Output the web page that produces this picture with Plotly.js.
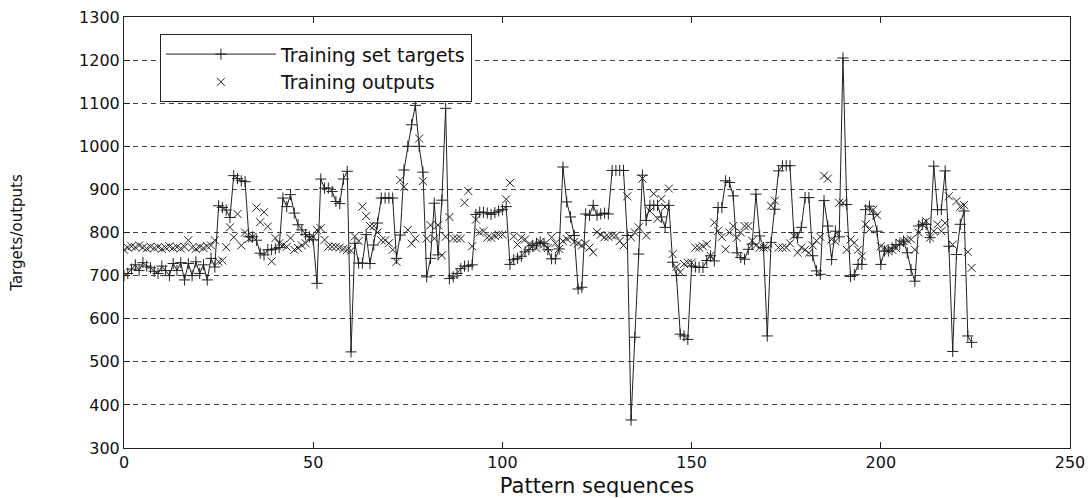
<!DOCTYPE html>
<html>
<head>
<meta charset="utf-8">
<script src="https://cdn.plot.ly/plotly-3.0.1.min.js"></script>
<style>html,body{margin:0;padding:0;background:#fff;}#chart{width:1091px;height:498px;}</style>
</head>
<body>
<div id="chart"></div>
<script>
// Training set targets (pattern sequence 0..224)
const targets = [
700,705,715,725,712,730,722,718,710,705,
722,712,700,728,712,730,690,728,700,732,
705,725,690,740,720,862,858,852,835,932,
925,920,918,790,790,782,752,748,760,760,
762,765,880,860,888,845,818,806,795,790,
783,682,924,903,903,895,872,867,924,942,
523,775,729,729,795,728,771,822,880,880,
880,880,740,794,945,1000,1050,1095,1000,940,
697,740,868,748,875,1088,693,697,705,716,
722,722,725,842,847,847,845,842,846,850,
853,860,726,737,740,745,755,760,770,775,
778,774,760,739,739,762,952,871,836,793,
669,673,843,840,863,840,843,845,843,944,
944,944,944,793,365,557,750,933,828,863,
863,863,836,812,863,731,700,564,560,552,
722,720,719,719,735,746,734,858,858,920,
916,885,753,742,738,761,773,889,792,765,
560,777,854,943,955,955,955,800,788,812,
881,881,746,711,703,874,815,737,803,790,
1205,865,698,702,726,726,853,861,842,803,
726,757,757,764,772,772,780,753,714,687,
815,819,819,788,954,853,853,943,768,524,
749,819,850,560,545
];
// Training outputs
const outputs = [
760,765,768,766,770,765,763,767,764,766,
762,765,768,764,766,763,767,782,765,762,
766,764,768,770,782,732,735,766,812,789,
843,770,800,785,790,858,824,847,814,733,
787,775,771,767,787,760,764,770,775,787,
790,806,810,783,767,767,767,765,762,760,
758,791,780,860,838,815,815,800,782,782,
775,760,732,922,906,806,774,786,1018,919,
786,817,786,817,747,790,836,786,786,786,
869,896,768,830,800,803,788,788,792,795,
795,877,915,791,772,788,784,772,768,764,
778,772,764,789,775,762,780,785,789,778,
775,770,774,765,754,801,795,789,790,793,
793,780,770,884,789,800,812,925,793,850,
890,832,878,859,902,750,720,708,727,730,
730,765,765,768,773,746,823,804,790,761,
800,815,788,800,815,815,781,770,765,765,
765,862,874,765,765,765,775,792,753,765,
760,753,770,781,790,932,925,784,780,869,
869,760,784,776,760,745,819,807,853,840,
768,764,757,760,764,776,780,782,784,760,
800,819,826,788,803,819,803,822,884,772,
873,860,864,755,718
];
const seq = targets.map((_, i) => i);
const xTicks = [0, 50, 100, 150, 200, 250];
const yTicks = [300, 400, 500, 600, 700, 800, 900, 1000, 1100, 1200, 1300];

const traces = [
  {
    x: seq, y: targets, name: 'Training set targets', type: 'scatter', mode: 'lines+markers',
    line: {color: '#222', width: 1},
    marker: {symbol: 'cross-thin', size: 8, color: '#222', line: {color: '#222', width: 1}}
  },
  {
    x: seq, y: outputs, name: 'Training outputs', type: 'scatter', mode: 'markers',
    marker: {symbol: 'x-thin', size: 8, color: '#222', line: {color: '#222', width: 1}}
  }
];

const layout = {
  width: 1091, height: 498,
  margin: {l: 124, r: 21, t: 17, b: 50},
  paper_bgcolor: '#fff', plot_bgcolor: '#fff',
  font: {family: 'DejaVu Sans, Arial, sans-serif', color: '#111'},
  showlegend: true,
  legend: {
    x: 0.038, y: 0.96, xanchor: 'left', yanchor: 'top',
    bgcolor: '#fff', bordercolor: '#222', borderwidth: 1,
    font: {family: 'DejaVu Sans, Arial, sans-serif', size: 19, color: '#111'},
    itemwidth: 110, tracegroupgap: 0
  },
  xaxis: {
    range: [0, 250], tickvals: xTicks, ticktext: xTicks.map(String),
    ticks: 'inside', ticklen: 6, tickcolor: '#222',
    showline: true, linecolor: '#222', linewidth: 1, mirror: 'ticks',
    showgrid: false, zeroline: false,
    tickfont: {family: 'DejaVu Sans, Arial, sans-serif', size: 16, color: '#111'},
    title: {text: 'Pattern sequences', font: {family: 'DejaVu Sans, Arial, sans-serif', size: 21, color: '#111'}, standoff: 9}
  },
  yaxis: {
    range: [300, 1300], tickvals: yTicks, ticktext: yTicks.map(String),
    ticks: 'inside', ticklen: 6, tickcolor: '#222',
    showline: true, linecolor: '#222', linewidth: 1, mirror: 'ticks',
    showgrid: true, gridcolor: '#444', gridwidth: 1, griddash: '5px,4px',
    zeroline: false,
    tickfont: {family: 'DejaVu Sans, Arial, sans-serif', size: 16, color: '#111'},
    title: {text: 'Targets/outputs', font: {family: 'DejaVu Sans, Arial, sans-serif', size: 15, color: '#111'}, standoff: 52}
  }
};

Plotly.newPlot('chart', traces, layout, {displayModeBar: false, staticPlot: true});
</script>
</body>
</html>
